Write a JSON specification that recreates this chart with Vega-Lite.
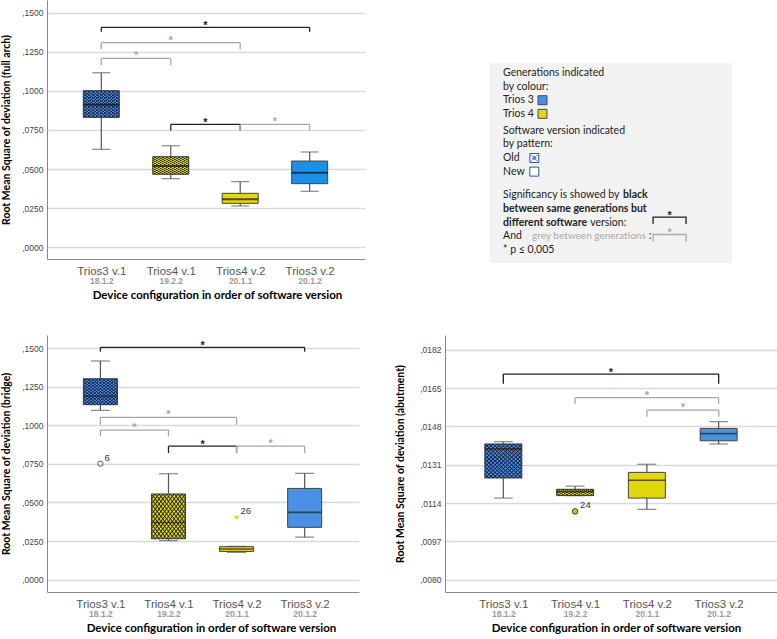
{
 "$schema": "https://vega.github.io/schema/vega-lite/v6.json",
 "background": "white",
 "padding": {"left": 1, "top": 0, "right": 0, "bottom": 0},
 "datasets": {
  "boxes": [
   {"panel": "full arch", "pos": 1, "config": "Trios3 v.1", "version": "18.1.2", "gen": "Trios 3", "sw": "Old", "min": 0.0626, "q1": 0.0831, "median": 0.0912, "q3": 0.1002, "max": 0.1117},
   {"panel": "full arch", "pos": 2, "config": "Trios4 v.1", "version": "19.2.2", "gen": "Trios 4", "sw": "Old", "min": 0.0438, "q1": 0.0466, "median": 0.052, "q3": 0.0579, "max": 0.0649},
   {"panel": "full arch", "pos": 3, "config": "Trios4 v.2", "version": "20.1.1", "gen": "Trios 4", "sw": "New", "min": 0.0263, "q1": 0.028, "median": 0.0306, "q3": 0.0344, "max": 0.0419},
   {"panel": "full arch", "pos": 4, "config": "Trios3 v.2", "version": "20.1.2", "gen": "Trios 3", "sw": "New", "min": 0.0357, "q1": 0.0406, "median": 0.0476, "q3": 0.0551, "max": 0.0609},
   {"panel": "bridge", "pos": 1, "config": "Trios3 v.1", "version": "18.1.2", "gen": "Trios 3", "sw": "Old", "min": 0.1096, "q1": 0.1133, "median": 0.1187, "q3": 0.1301, "max": 0.1416},
   {"panel": "bridge", "pos": 2, "config": "Trios4 v.1", "version": "19.2.2", "gen": "Trios 4", "sw": "Old", "min": 0.0253, "q1": 0.0265, "median": 0.037, "q3": 0.0555, "max": 0.0686},
   {"panel": "bridge", "pos": 3, "config": "Trios4 v.2", "version": "20.1.1", "gen": "Trios 4", "sw": "New", "min": 0.0177, "q1": 0.0183, "median": 0.0199, "q3": 0.0214, "max": 0.0216},
   {"panel": "bridge", "pos": 4, "config": "Trios3 v.2", "version": "20.1.2", "gen": "Trios 3", "sw": "New", "min": 0.0276, "q1": 0.0339, "median": 0.0436, "q3": 0.0591, "max": 0.0689},
   {"panel": "abutment", "pos": 1, "config": "Trios3 v.1", "version": "18.1.2", "gen": "Trios 3", "sw": "Old", "min": 0.01162, "q1": 0.01251, "median": 0.0138, "q3": 0.01402, "max": 0.01412},
   {"panel": "abutment", "pos": 2, "config": "Trios4 v.1", "version": "19.2.2", "gen": "Trios 4", "sw": "Old", "min": 0.01173, "q1": 0.01173, "median": 0.0119, "q3": 0.01201, "max": 0.01215},
   {"panel": "abutment", "pos": 3, "config": "Trios4 v.2", "version": "20.1.1", "gen": "Trios 4", "sw": "New", "min": 0.01112, "q1": 0.01162, "median": 0.01241, "q3": 0.01276, "max": 0.01312},
   {"panel": "abutment", "pos": 4, "config": "Trios3 v.2", "version": "20.1.2", "gen": "Trios 3", "sw": "New", "min": 0.01402, "q1": 0.01416, "median": 0.01448, "q3": 0.01471, "max": 0.01501}
  ],
  "outliers": [
   {"panel": "bridge", "pos": 1, "value": 0.0751, "case": "6", "type": "outlier"},
   {"panel": "bridge", "pos": 3, "value": 0.0404, "case": "26", "type": "extreme"},
   {"panel": "abutment", "pos": 2, "value": 0.01103, "case": "24", "type": "outlier"}
  ],
  "brackets": [
   {"panel": "full arch", "id": "a", "from": 1, "to": 4, "level": 0.1408, "end": 0.138, "kind": "same", "sig": "*"},
   {"panel": "full arch", "id": "b", "from": 1, "to": 3, "level": 0.131, "end": 0.1267, "kind": "between", "sig": "*"},
   {"panel": "full arch", "id": "c", "from": 1, "to": 2, "level": 0.1209, "end": 0.1167, "kind": "between", "sig": "*"},
   {"panel": "full arch", "id": "d", "from": 2, "to": 3, "level": 0.0786, "end": 0.0746, "kind": "same", "sig": "*"},
   {"panel": "full arch", "id": "e", "from": 3, "to": 4, "level": 0.0786, "end": 0.0746, "kind": "between", "sig": "*"},
   {"panel": "bridge", "id": "f", "from": 1, "to": 4, "level": 0.1504, "end": 0.1476, "kind": "same", "sig": "*"},
   {"panel": "bridge", "id": "g", "from": 1, "to": 3, "level": 0.1051, "end": 0.1004, "kind": "between", "sig": "*"},
   {"panel": "bridge", "id": "h", "from": 1, "to": 2, "level": 0.0969, "end": 0.0928, "kind": "between", "sig": "*"},
   {"panel": "bridge", "id": "i", "from": 2, "to": 3, "level": 0.0865, "end": 0.082, "kind": "same", "sig": "*"},
   {"panel": "bridge", "id": "j", "from": 3, "to": 4, "level": 0.0865, "end": 0.082, "kind": "between", "sig": "*"},
   {"panel": "abutment", "id": "k", "from": 1, "to": 4, "level": 0.017121, "end": 0.016692, "kind": "same", "sig": "*"},
   {"panel": "abutment", "id": "l", "from": 2, "to": 4, "level": 0.016071, "end": 0.015805, "kind": "between", "sig": "*"},
   {"panel": "abutment", "id": "m", "from": 3, "to": 4, "level": 0.015524, "end": 0.015229, "kind": "between", "sig": "*"}
  ],
  "legend": [
   {"line": 1, "text": "Generations indicated", "seg": "main"},
   {"line": 2, "text": "by colour:", "seg": "main"},
   {"line": 3, "text": "Trios 3", "seg": "main"},
   {"line": 4, "text": "Trios 4", "seg": "main"},
   {"line": 5.25, "text": "Software version indicated", "seg": "main"},
   {"line": 6.25, "text": "by pattern:", "seg": "main"},
   {"line": 7.25, "text": "Old", "seg": "main"},
   {"line": 8.25, "text": "New", "seg": "main"},
   {"line": 10, "text": "Significancy is showed by", "seg": "main"},
   {"line": 10, "text": "black", "seg": "black"},
   {"line": 11, "text": "between same generations but", "seg": "bold"},
   {"line": 12, "text": "different software", "seg": "bold"},
   {"line": 12, "text": "version:", "seg": "version"},
   {"line": 13, "text": "And", "seg": "main"},
   {"line": 13, "text": "grey between generations", "seg": "grey"},
   {"line": 13, "text": ":", "seg": "colon"},
   {"line": 14, "text": "* p ≤ 0,005", "seg": "main"}
  ]
 },
 "spacing": 34,
 "resolve": {"scale": {"fill": "independent", "stroke": "independent"}},
 "vconcat": [
  {
   "spacing": 125,
   "resolve": {"scale": {"fill": "independent", "stroke": "independent"}},
   "hconcat": [
    {
     "width": 318, "height": 259,
     "resolve": {"axis": {"x": "independent"}},
     "layer": [
      {"data": {"name": "boxes"}, "transform": [{"filter": "datum.panel == 'full arch'"}],
       "mark": {"type": "rule", "color": "#555555", "strokeWidth": 1.2},
       "encoding": {
        "x": {"field": "pos", "type": "quantitative", "scale": {"domain": [0.29, 4.725], "nice": false, "zero": false},
              "axis": {"orient": "bottom", "values": [1, 2, 3, 4], "labelExpr": "['','Trios3 v.1','Trios4 v.1','Trios4 v.2','Trios3 v.2'][datum.value]", "grid": false, "ticks": false, "domain": true, "domainColor": "#888888", "labelFont": "Liberation Sans", "labelFontSize": 11.5, "labelColor": "#555555", "labelPadding": 6, "labelOverlap": false, "labelFlush": false, "title": null}},
        "y": {"field": "min", "type": "quantitative", "scale": {"domain": [-0.00769, 0.15833], "nice": false, "zero": false},
              "axis": {"values": [0, 0.025, 0.05, 0.075, 0.1, 0.125, 0.15], "labelExpr": "replace(format(datum.value, '.4f'), '0.', ',')", "grid": true, "gridColor": "#d9d9d9", "gridWidth": 1.5, "ticks": false, "domain": true, "domainColor": "#888888", "labelFont": "Liberation Sans", "labelFontSize": 8.5, "labelColor": "#444444", "labelPadding": 4, "title": "Root Mean Square of deviation (full arch)", "titleFont": "Lato", "titleFontSize": 10.5, "titleFontWeight": "bold", "titleColor": "#000000", "titlePadding": 10}},
        "y2": {"field": "max"}
       }},
      {"data": {"name": "boxes"}, "transform": [{"filter": "datum.panel == 'full arch'"}, {"fold": ["min", "max"], "as": ["stat", "v"]}],
       "mark": {"type": "tick", "orient": "horizontal", "size": 18, "thickness": 1.2, "color": "#555555"},
       "encoding": {"x": {"field": "pos", "type": "quantitative", "axis": null}, "y": {"field": "v", "type": "quantitative"}}},
      {"data": {"name": "boxes"}, "transform": [{"filter": "datum.panel == 'full arch'"}],
       "mark": {"type": "bar", "width": 36, "stroke": "#444444", "strokeWidth": 1},
       "encoding": {
        "x": {"field": "pos", "type": "quantitative",
              "axis": {"orient": "bottom", "values": [1, 2, 3, 4], "labelExpr": "['','18.1.2','19.2.2','20.1.1','20.1.2'][datum.value]", "grid": false, "ticks": false, "domain": false, "labelFont": "Liberation Sans", "labelFontSize": 8.5, "labelFontWeight": "bold", "labelColor": "#9a9a9a", "labelPadding": 17, "labelOverlap": false, "labelFlush": false, "title": "Device configuration in order of software version", "titleFont": "Lato", "titleFontSize": 11.5, "titleFontWeight": "bold", "titleColor": "#000000", "titlePadding": 5, "titleX": 170}},
        "y": {"field": "q1", "type": "quantitative"},
        "y2": {"field": "q3"},
        "fill": {"field": "config", "type": "nominal", "scale": {"domain": ["Trios3 v.1", "Trios4 v.1", "Trios4 v.2", "Trios3 v.2"], "range": ["#4a8fe3", "#e2d60f", "#e2d60f", "#1c90e8"]}, "legend": null}
       }},
      {"data": {"name": "boxes"}, "transform": [{"filter": "datum.panel == 'full arch' && datum.sw == 'Old'"}],
       "mark": {"type": "bar", "width": 36, "strokeWidth": 0, "fill": {"gradient": "linear", "x1": 0, "y1": 0, "x2": 1, "y2": 1, "stops": [{"offset":0,"color":"rgba(10,15,40,0.85)"},{"offset":0.01667,"color":"rgba(10,15,40,0)"},{"offset":0.03889,"color":"rgba(10,15,40,0)"},{"offset":0.05556,"color":"rgba(10,15,40,0.85)"},{"offset":0.07222,"color":"rgba(10,15,40,0)"},{"offset":0.09444,"color":"rgba(10,15,40,0)"},{"offset":0.11111,"color":"rgba(10,15,40,0.85)"},{"offset":0.12778,"color":"rgba(10,15,40,0)"},{"offset":0.15,"color":"rgba(10,15,40,0)"},{"offset":0.16667,"color":"rgba(10,15,40,0.85)"},{"offset":0.18333,"color":"rgba(10,15,40,0)"},{"offset":0.20556,"color":"rgba(10,15,40,0)"},{"offset":0.22222,"color":"rgba(10,15,40,0.85)"},{"offset":0.23889,"color":"rgba(10,15,40,0)"},{"offset":0.26111,"color":"rgba(10,15,40,0)"},{"offset":0.27778,"color":"rgba(10,15,40,0.85)"},{"offset":0.29444,"color":"rgba(10,15,40,0)"},{"offset":0.31667,"color":"rgba(10,15,40,0)"},{"offset":0.33333,"color":"rgba(10,15,40,0.85)"},{"offset":0.35,"color":"rgba(10,15,40,0)"},{"offset":0.37222,"color":"rgba(10,15,40,0)"},{"offset":0.38889,"color":"rgba(10,15,40,0.85)"},{"offset":0.40556,"color":"rgba(10,15,40,0)"},{"offset":0.42778,"color":"rgba(10,15,40,0)"},{"offset":0.44444,"color":"rgba(10,15,40,0.85)"},{"offset":0.46111,"color":"rgba(10,15,40,0)"},{"offset":0.48333,"color":"rgba(10,15,40,0)"},{"offset":0.5,"color":"rgba(10,15,40,0.85)"},{"offset":0.51667,"color":"rgba(10,15,40,0)"},{"offset":0.53889,"color":"rgba(10,15,40,0)"},{"offset":0.55556,"color":"rgba(10,15,40,0.85)"},{"offset":0.57222,"color":"rgba(10,15,40,0)"},{"offset":0.59444,"color":"rgba(10,15,40,0)"},{"offset":0.61111,"color":"rgba(10,15,40,0.85)"},{"offset":0.62778,"color":"rgba(10,15,40,0)"},{"offset":0.65,"color":"rgba(10,15,40,0)"},{"offset":0.66667,"color":"rgba(10,15,40,0.85)"},{"offset":0.68333,"color":"rgba(10,15,40,0)"},{"offset":0.70556,"color":"rgba(10,15,40,0)"},{"offset":0.72222,"color":"rgba(10,15,40,0.85)"},{"offset":0.73889,"color":"rgba(10,15,40,0)"},{"offset":0.76111,"color":"rgba(10,15,40,0)"},{"offset":0.77778,"color":"rgba(10,15,40,0.85)"},{"offset":0.79444,"color":"rgba(10,15,40,0)"},{"offset":0.81667,"color":"rgba(10,15,40,0)"},{"offset":0.83333,"color":"rgba(10,15,40,0.85)"},{"offset":0.85,"color":"rgba(10,15,40,0)"},{"offset":0.87222,"color":"rgba(10,15,40,0)"},{"offset":0.88889,"color":"rgba(10,15,40,0.85)"},{"offset":0.90556,"color":"rgba(10,15,40,0)"},{"offset":0.92778,"color":"rgba(10,15,40,0)"},{"offset":0.94444,"color":"rgba(10,15,40,0.85)"},{"offset":0.96111,"color":"rgba(10,15,40,0)"},{"offset":0.98333,"color":"rgba(10,15,40,0)"},{"offset":1,"color":"rgba(10,15,40,0.85)"}]}},
       "encoding": {"x": {"field": "pos", "type": "quantitative", "axis": null}, "y": {"field": "q1", "type": "quantitative"}, "y2": {"field": "q3"}}},
      {"data": {"name": "boxes"}, "transform": [{"filter": "datum.panel == 'full arch' && datum.sw == 'Old'"}],
       "mark": {"type": "bar", "width": 36, "strokeWidth": 0, "fill": {"gradient": "linear", "x1": 1, "y1": 0, "x2": 0, "y2": 1, "stops": [{"offset":0,"color":"rgba(10,15,40,0.85)"},{"offset":0.01667,"color":"rgba(10,15,40,0)"},{"offset":0.03889,"color":"rgba(10,15,40,0)"},{"offset":0.05556,"color":"rgba(10,15,40,0.85)"},{"offset":0.07222,"color":"rgba(10,15,40,0)"},{"offset":0.09444,"color":"rgba(10,15,40,0)"},{"offset":0.11111,"color":"rgba(10,15,40,0.85)"},{"offset":0.12778,"color":"rgba(10,15,40,0)"},{"offset":0.15,"color":"rgba(10,15,40,0)"},{"offset":0.16667,"color":"rgba(10,15,40,0.85)"},{"offset":0.18333,"color":"rgba(10,15,40,0)"},{"offset":0.20556,"color":"rgba(10,15,40,0)"},{"offset":0.22222,"color":"rgba(10,15,40,0.85)"},{"offset":0.23889,"color":"rgba(10,15,40,0)"},{"offset":0.26111,"color":"rgba(10,15,40,0)"},{"offset":0.27778,"color":"rgba(10,15,40,0.85)"},{"offset":0.29444,"color":"rgba(10,15,40,0)"},{"offset":0.31667,"color":"rgba(10,15,40,0)"},{"offset":0.33333,"color":"rgba(10,15,40,0.85)"},{"offset":0.35,"color":"rgba(10,15,40,0)"},{"offset":0.37222,"color":"rgba(10,15,40,0)"},{"offset":0.38889,"color":"rgba(10,15,40,0.85)"},{"offset":0.40556,"color":"rgba(10,15,40,0)"},{"offset":0.42778,"color":"rgba(10,15,40,0)"},{"offset":0.44444,"color":"rgba(10,15,40,0.85)"},{"offset":0.46111,"color":"rgba(10,15,40,0)"},{"offset":0.48333,"color":"rgba(10,15,40,0)"},{"offset":0.5,"color":"rgba(10,15,40,0.85)"},{"offset":0.51667,"color":"rgba(10,15,40,0)"},{"offset":0.53889,"color":"rgba(10,15,40,0)"},{"offset":0.55556,"color":"rgba(10,15,40,0.85)"},{"offset":0.57222,"color":"rgba(10,15,40,0)"},{"offset":0.59444,"color":"rgba(10,15,40,0)"},{"offset":0.61111,"color":"rgba(10,15,40,0.85)"},{"offset":0.62778,"color":"rgba(10,15,40,0)"},{"offset":0.65,"color":"rgba(10,15,40,0)"},{"offset":0.66667,"color":"rgba(10,15,40,0.85)"},{"offset":0.68333,"color":"rgba(10,15,40,0)"},{"offset":0.70556,"color":"rgba(10,15,40,0)"},{"offset":0.72222,"color":"rgba(10,15,40,0.85)"},{"offset":0.73889,"color":"rgba(10,15,40,0)"},{"offset":0.76111,"color":"rgba(10,15,40,0)"},{"offset":0.77778,"color":"rgba(10,15,40,0.85)"},{"offset":0.79444,"color":"rgba(10,15,40,0)"},{"offset":0.81667,"color":"rgba(10,15,40,0)"},{"offset":0.83333,"color":"rgba(10,15,40,0.85)"},{"offset":0.85,"color":"rgba(10,15,40,0)"},{"offset":0.87222,"color":"rgba(10,15,40,0)"},{"offset":0.88889,"color":"rgba(10,15,40,0.85)"},{"offset":0.90556,"color":"rgba(10,15,40,0)"},{"offset":0.92778,"color":"rgba(10,15,40,0)"},{"offset":0.94444,"color":"rgba(10,15,40,0.85)"},{"offset":0.96111,"color":"rgba(10,15,40,0)"},{"offset":0.98333,"color":"rgba(10,15,40,0)"},{"offset":1,"color":"rgba(10,15,40,0.85)"}]}},
       "encoding": {"x": {"field": "pos", "type": "quantitative", "axis": null}, "y": {"field": "q1", "type": "quantitative"}, "y2": {"field": "q3"}}},
      {"data": {"name": "boxes"}, "transform": [{"filter": "datum.panel == 'full arch'"}],
       "mark": {"type": "tick", "orient": "horizontal", "size": 36, "thickness": 2, "color": "#111111"},
       "encoding": {"x": {"field": "pos", "type": "quantitative", "axis": null}, "y": {"field": "median", "type": "quantitative"}}},
      {"data": {"name": "brackets"}, "transform": [{"filter": "datum.panel == 'full arch'"}],
       "mark": {"type": "rule", "strokeWidth": 1.3},
       "encoding": {"x": {"field": "from", "type": "quantitative", "axis": null}, "x2": {"field": "to"}, "y": {"field": "level", "type": "quantitative"},
        "stroke": {"field": "kind", "type": "nominal", "scale": {"domain": ["same", "between"], "range": ["#222222", "#a6a6a6"]}, "legend": null}}},
      {"data": {"name": "brackets"}, "transform": [{"filter": "datum.panel == 'full arch'"}, {"fold": ["from", "to"], "as": ["side", "xv"]}],
       "mark": {"type": "rule", "strokeWidth": 1.3},
       "encoding": {"x": {"field": "xv", "type": "quantitative", "axis": null}, "y": {"field": "level", "type": "quantitative"}, "y2": {"field": "end"},
        "stroke": {"field": "kind", "type": "nominal", "scale": {"domain": ["same", "between"], "range": ["#222222", "#a6a6a6"]}, "legend": null}}},
      {"data": {"name": "brackets"}, "transform": [{"filter": "datum.panel == 'full arch' && datum.kind == 'same'"}, {"fold": ["from", "to"], "as": ["side", "xv"]}, {"aggregate": [{"op": "mean", "field": "xv", "as": "mid"}], "groupby": ["id", "level", "sig"]}],
       "mark": {"type": "text", "font": "Liberation Sans", "fontSize": 11, "fontWeight": "bold", "color": "#222222", "baseline": "alphabetic", "dy": 2},
       "encoding": {"x": {"field": "mid", "type": "quantitative", "axis": null}, "y": {"field": "level", "type": "quantitative"}, "text": {"field": "sig"}}},
      {"data": {"name": "brackets"}, "transform": [{"filter": "datum.panel == 'full arch' && datum.kind == 'between'"}, {"fold": ["from", "to"], "as": ["side", "xv"]}, {"aggregate": [{"op": "mean", "field": "xv", "as": "mid"}], "groupby": ["id", "level", "sig"]}],
       "mark": {"type": "text", "font": "Liberation Sans", "fontSize": 11, "fontWeight": "bold", "color": "#a6a6a6", "baseline": "alphabetic", "dy": 1},
       "encoding": {"x": {"field": "mid", "type": "quantitative", "axis": null}, "y": {"field": "level", "type": "quantitative"}, "text": {"field": "sig"}}}
     ]
    },
    {
     "width": 242, "height": 263,
     "layer": [
      {"data": {"values": [{}]}, "mark": {"type": "rect", "fill": "#f2f2f2"},
       "encoding": {"x": {"datum": 0, "type": "quantitative", "scale": {"domain": [0, 100], "nice": false, "zero": false}, "axis": null}, "x2": {"datum": 100},
        "y": {"datum": 0.26, "type": "quantitative", "scale": {"domain": [-4.37, 14.97], "reverse": true, "nice": false, "zero": false}, "axis": null}, "y2": {"datum": 14.97}}},
      {"data": {"name": "legend"}, "transform": [{"filter": "datum.seg == 'main'"}],
       "mark": {"type": "text", "align": "left", "baseline": "middle", "font": "Lato", "fontSize": 10.5, "color": "#222222"},
       "encoding": {"x": {"datum": 5.4, "type": "quantitative", "axis": null}, "y": {"field": "line", "type": "quantitative", "axis": null}, "text": {"field": "text"}}},
      {"data": {"name": "legend"}, "transform": [{"filter": "datum.seg == 'bold'"}],
       "mark": {"type": "text", "align": "left", "baseline": "middle", "font": "Lato", "fontSize": 10.5, "fontWeight": "bold", "color": "#222222"},
       "encoding": {"x": {"datum": 5.4, "type": "quantitative", "axis": null}, "y": {"field": "line", "type": "quantitative", "axis": null}, "text": {"field": "text"}}},
      {"data": {"name": "legend"}, "transform": [{"filter": "datum.seg == 'black'"}],
       "mark": {"type": "text", "align": "left", "baseline": "middle", "font": "Lato", "fontSize": 10.5, "fontWeight": "bold", "color": "#222222"},
       "encoding": {"x": {"datum": 55, "type": "quantitative", "axis": null}, "y": {"field": "line", "type": "quantitative", "axis": null}, "text": {"field": "text"}}},
      {"data": {"name": "legend"}, "transform": [{"filter": "datum.seg == 'version'"}],
       "mark": {"type": "text", "align": "left", "baseline": "middle", "font": "Lato", "fontSize": 10.5, "color": "#222222"},
       "encoding": {"x": {"datum": 41.4, "type": "quantitative", "axis": null}, "y": {"field": "line", "type": "quantitative", "axis": null}, "text": {"field": "text"}}},
      {"data": {"name": "legend"}, "transform": [{"filter": "datum.seg == 'grey'"}],
       "mark": {"type": "text", "align": "left", "baseline": "middle", "font": "Lato", "fontSize": 10, "color": "#aaaaaa"},
       "encoding": {"x": {"datum": 17.4, "type": "quantitative", "axis": null}, "y": {"field": "line", "type": "quantitative", "axis": null}, "text": {"field": "text"}}},
      {"data": {"name": "legend"}, "transform": [{"filter": "datum.seg == 'colon'"}],
       "mark": {"type": "text", "align": "left", "baseline": "middle", "font": "Lato", "fontSize": 10.5, "color": "#222222"},
       "encoding": {"x": {"datum": 65.6, "type": "quantitative", "axis": null}, "y": {"field": "line", "type": "quantitative", "axis": null}, "text": {"field": "text"}}},
      {"data": {"name": "legend"}, "transform": [{"filter": "datum.text == 'Trios 3' || datum.text == 'Trios 4'"}],
       "mark": {"type": "point", "shape": "square", "size": 81, "filled": true, "opacity": 1, "stroke": "#3c4a66", "strokeWidth": 1},
       "encoding": {"x": {"datum": 21.7, "type": "quantitative", "axis": null}, "y": {"field": "line", "type": "quantitative", "axis": null},
        "fill": {"field": "text", "type": "nominal", "scale": {"domain": ["Trios 3", "Trios 4"], "range": ["#4a8fe3", "#e2d60f"]}, "legend": null}}},
      {"data": {"name": "legend"}, "transform": [{"filter": "datum.text == 'Old' || datum.text == 'New'"}],
       "mark": {"type": "point", "shape": "square", "size": 81, "filled": true, "fill": "#ffffff", "opacity": 1, "stroke": "#2f5597", "strokeWidth": 1},
       "encoding": {"x": {"datum": 18.3, "type": "quantitative", "axis": null}, "y": {"field": "line", "type": "quantitative", "axis": null}}},
      {"data": {"name": "legend"}, "transform": [{"filter": "datum.text == 'Old'"}],
       "mark": {"type": "point", "shape": "M-0.75,-0.75L0.75,0.75M0.75,-0.75L-0.75,0.75M-0.4,0L0,-0.4L0.4,0L0,0.4Z", "size": 81, "filled": false, "opacity": 1, "stroke": "#2f5597", "strokeWidth": 0.8},
       "encoding": {"x": {"datum": 18.3, "type": "quantitative", "axis": null}, "y": {"field": "line", "type": "quantitative", "axis": null}}},
      {"data": {"values": [{}]},
       "mark": {"type": "point", "shape": "M-1,0.21L-1,-0.21L1,-0.21L1,0.21", "size": 1089, "filled": false, "opacity": 1, "stroke": "#222222", "strokeWidth": 1.3},
       "encoding": {"x": {"datum": 74.2, "type": "quantitative", "axis": null}, "y": {"datum": 11.85, "type": "quantitative", "axis": null}}},
      {"data": {"values": [{}]},
       "mark": {"type": "point", "shape": "M-1,0.21L-1,-0.21L1,-0.21L1,0.21", "size": 1089, "filled": false, "opacity": 1, "stroke": "#aaaaaa", "strokeWidth": 1.3},
       "encoding": {"x": {"datum": 74.2, "type": "quantitative", "axis": null}, "y": {"datum": 13.13, "type": "quantitative", "axis": null}}},
      {"data": {"values": [{"sig": "*"}]},
       "mark": {"type": "text", "font": "Liberation Sans", "fontSize": 11, "fontWeight": "bold", "color": "#222222", "baseline": "alphabetic", "dy": 2},
       "encoding": {"x": {"datum": 74.2, "type": "quantitative", "axis": null}, "y": {"datum": 11.59, "type": "quantitative", "axis": null}, "text": {"field": "sig"}}},
      {"data": {"values": [{"sig": "*"}]},
       "mark": {"type": "text", "font": "Liberation Sans", "fontSize": 11, "fontWeight": "bold", "color": "#aaaaaa", "baseline": "alphabetic", "dy": 1},
       "encoding": {"x": {"datum": 74.2, "type": "quantitative", "axis": null}, "y": {"datum": 12.91, "type": "quantitative", "axis": null}, "text": {"field": "sig"}}}
     ]
    }
   ]
  },
  {
   "spacing": 36,
   "resolve": {"scale": {"fill": "independent", "stroke": "independent"}},
   "hconcat": [
    {
     "width": 312, "height": 257,
     "resolve": {"axis": {"x": "independent"}},
     "layer": [
      {"data": {"name": "boxes"}, "transform": [{"filter": "datum.panel == 'bridge'"}],
       "mark": {"type": "rule", "color": "#555555", "strokeWidth": 1.2},
       "encoding": {
        "x": {"field": "pos", "type": "quantitative", "scale": {"domain": [0.289, 4.725], "nice": false, "zero": false},
              "axis": {"orient": "bottom", "values": [1, 2, 3, 4], "labelExpr": "['','Trios3 v.1','Trios4 v.1','Trios4 v.2','Trios3 v.2'][datum.value]", "grid": false, "ticks": false, "domain": true, "domainColor": "#888888", "labelFont": "Liberation Sans", "labelFontSize": 11.5, "labelColor": "#555555", "labelPadding": 6, "labelOverlap": false, "labelFlush": false, "title": null}},
        "y": {"field": "min", "type": "quantitative", "scale": {"domain": [-0.00796, 0.15842], "nice": false, "zero": false},
              "axis": {"values": [0, 0.025, 0.05, 0.075, 0.1, 0.125, 0.15], "labelExpr": "replace(format(datum.value, '.4f'), '0.', ',')", "grid": true, "gridColor": "#d9d9d9", "gridWidth": 1.5, "ticks": false, "domain": true, "domainColor": "#888888", "labelFont": "Liberation Sans", "labelFontSize": 8.5, "labelColor": "#444444", "labelPadding": 4, "title": "Root Mean Square of deviation (bridge)", "titleFont": "Lato", "titleFontSize": 10.5, "titleFontWeight": "bold", "titleColor": "#000000", "titlePadding": 10}},
        "y2": {"field": "max"}
       }},
      {"data": {"name": "boxes"}, "transform": [{"filter": "datum.panel == 'bridge'"}, {"fold": ["min", "max"], "as": ["stat", "v"]}],
       "mark": {"type": "tick", "orient": "horizontal", "size": 19, "thickness": 1.2, "color": "#555555"},
       "encoding": {"x": {"field": "pos", "type": "quantitative", "axis": null}, "y": {"field": "v", "type": "quantitative"}}},
      {"data": {"name": "boxes"}, "transform": [{"filter": "datum.panel == 'bridge'"}],
       "mark": {"type": "bar", "width": 34, "stroke": "#444444", "strokeWidth": 1},
       "encoding": {
        "x": {"field": "pos", "type": "quantitative",
              "axis": {"orient": "bottom", "values": [1, 2, 3, 4], "labelExpr": "['','18.1.2','19.2.2','20.1.1','20.1.2'][datum.value]", "grid": false, "ticks": false, "domain": false, "labelFont": "Liberation Sans", "labelFontSize": 8.5, "labelFontWeight": "bold", "labelColor": "#9a9a9a", "labelPadding": 17, "labelOverlap": false, "labelFlush": false, "title": "Device configuration in order of software version", "titleFont": "Lato", "titleFontSize": 11.5, "titleFontWeight": "bold", "titleColor": "#000000", "titlePadding": 5, "titleX": 164}},
        "y": {"field": "q1", "type": "quantitative"},
        "y2": {"field": "q3"},
        "fill": {"field": "config", "type": "nominal", "scale": {"domain": ["Trios3 v.1", "Trios4 v.1", "Trios4 v.2", "Trios3 v.2"], "range": ["#4a8fe3", "#e2d60f", "#e2d60f", "#4b91e3"]}, "legend": null}
       }},
      {"data": {"name": "boxes"}, "transform": [{"filter": "datum.panel == 'bridge' && datum.sw == 'Old'"}],
       "mark": {"type": "bar", "width": 34, "strokeWidth": 0, "fill": {"gradient": "linear", "x1": 0, "y1": 0, "x2": 1, "y2": 1, "stops": [{"offset":0,"color":"rgba(10,15,40,0.85)"},{"offset":0.01667,"color":"rgba(10,15,40,0)"},{"offset":0.03889,"color":"rgba(10,15,40,0)"},{"offset":0.05556,"color":"rgba(10,15,40,0.85)"},{"offset":0.07222,"color":"rgba(10,15,40,0)"},{"offset":0.09444,"color":"rgba(10,15,40,0)"},{"offset":0.11111,"color":"rgba(10,15,40,0.85)"},{"offset":0.12778,"color":"rgba(10,15,40,0)"},{"offset":0.15,"color":"rgba(10,15,40,0)"},{"offset":0.16667,"color":"rgba(10,15,40,0.85)"},{"offset":0.18333,"color":"rgba(10,15,40,0)"},{"offset":0.20556,"color":"rgba(10,15,40,0)"},{"offset":0.22222,"color":"rgba(10,15,40,0.85)"},{"offset":0.23889,"color":"rgba(10,15,40,0)"},{"offset":0.26111,"color":"rgba(10,15,40,0)"},{"offset":0.27778,"color":"rgba(10,15,40,0.85)"},{"offset":0.29444,"color":"rgba(10,15,40,0)"},{"offset":0.31667,"color":"rgba(10,15,40,0)"},{"offset":0.33333,"color":"rgba(10,15,40,0.85)"},{"offset":0.35,"color":"rgba(10,15,40,0)"},{"offset":0.37222,"color":"rgba(10,15,40,0)"},{"offset":0.38889,"color":"rgba(10,15,40,0.85)"},{"offset":0.40556,"color":"rgba(10,15,40,0)"},{"offset":0.42778,"color":"rgba(10,15,40,0)"},{"offset":0.44444,"color":"rgba(10,15,40,0.85)"},{"offset":0.46111,"color":"rgba(10,15,40,0)"},{"offset":0.48333,"color":"rgba(10,15,40,0)"},{"offset":0.5,"color":"rgba(10,15,40,0.85)"},{"offset":0.51667,"color":"rgba(10,15,40,0)"},{"offset":0.53889,"color":"rgba(10,15,40,0)"},{"offset":0.55556,"color":"rgba(10,15,40,0.85)"},{"offset":0.57222,"color":"rgba(10,15,40,0)"},{"offset":0.59444,"color":"rgba(10,15,40,0)"},{"offset":0.61111,"color":"rgba(10,15,40,0.85)"},{"offset":0.62778,"color":"rgba(10,15,40,0)"},{"offset":0.65,"color":"rgba(10,15,40,0)"},{"offset":0.66667,"color":"rgba(10,15,40,0.85)"},{"offset":0.68333,"color":"rgba(10,15,40,0)"},{"offset":0.70556,"color":"rgba(10,15,40,0)"},{"offset":0.72222,"color":"rgba(10,15,40,0.85)"},{"offset":0.73889,"color":"rgba(10,15,40,0)"},{"offset":0.76111,"color":"rgba(10,15,40,0)"},{"offset":0.77778,"color":"rgba(10,15,40,0.85)"},{"offset":0.79444,"color":"rgba(10,15,40,0)"},{"offset":0.81667,"color":"rgba(10,15,40,0)"},{"offset":0.83333,"color":"rgba(10,15,40,0.85)"},{"offset":0.85,"color":"rgba(10,15,40,0)"},{"offset":0.87222,"color":"rgba(10,15,40,0)"},{"offset":0.88889,"color":"rgba(10,15,40,0.85)"},{"offset":0.90556,"color":"rgba(10,15,40,0)"},{"offset":0.92778,"color":"rgba(10,15,40,0)"},{"offset":0.94444,"color":"rgba(10,15,40,0.85)"},{"offset":0.96111,"color":"rgba(10,15,40,0)"},{"offset":0.98333,"color":"rgba(10,15,40,0)"},{"offset":1,"color":"rgba(10,15,40,0.85)"}]}},
       "encoding": {"x": {"field": "pos", "type": "quantitative", "axis": null}, "y": {"field": "q1", "type": "quantitative"}, "y2": {"field": "q3"}}},
      {"data": {"name": "boxes"}, "transform": [{"filter": "datum.panel == 'bridge' && datum.sw == 'Old'"}],
       "mark": {"type": "bar", "width": 34, "strokeWidth": 0, "fill": {"gradient": "linear", "x1": 1, "y1": 0, "x2": 0, "y2": 1, "stops": [{"offset":0,"color":"rgba(10,15,40,0.85)"},{"offset":0.01667,"color":"rgba(10,15,40,0)"},{"offset":0.03889,"color":"rgba(10,15,40,0)"},{"offset":0.05556,"color":"rgba(10,15,40,0.85)"},{"offset":0.07222,"color":"rgba(10,15,40,0)"},{"offset":0.09444,"color":"rgba(10,15,40,0)"},{"offset":0.11111,"color":"rgba(10,15,40,0.85)"},{"offset":0.12778,"color":"rgba(10,15,40,0)"},{"offset":0.15,"color":"rgba(10,15,40,0)"},{"offset":0.16667,"color":"rgba(10,15,40,0.85)"},{"offset":0.18333,"color":"rgba(10,15,40,0)"},{"offset":0.20556,"color":"rgba(10,15,40,0)"},{"offset":0.22222,"color":"rgba(10,15,40,0.85)"},{"offset":0.23889,"color":"rgba(10,15,40,0)"},{"offset":0.26111,"color":"rgba(10,15,40,0)"},{"offset":0.27778,"color":"rgba(10,15,40,0.85)"},{"offset":0.29444,"color":"rgba(10,15,40,0)"},{"offset":0.31667,"color":"rgba(10,15,40,0)"},{"offset":0.33333,"color":"rgba(10,15,40,0.85)"},{"offset":0.35,"color":"rgba(10,15,40,0)"},{"offset":0.37222,"color":"rgba(10,15,40,0)"},{"offset":0.38889,"color":"rgba(10,15,40,0.85)"},{"offset":0.40556,"color":"rgba(10,15,40,0)"},{"offset":0.42778,"color":"rgba(10,15,40,0)"},{"offset":0.44444,"color":"rgba(10,15,40,0.85)"},{"offset":0.46111,"color":"rgba(10,15,40,0)"},{"offset":0.48333,"color":"rgba(10,15,40,0)"},{"offset":0.5,"color":"rgba(10,15,40,0.85)"},{"offset":0.51667,"color":"rgba(10,15,40,0)"},{"offset":0.53889,"color":"rgba(10,15,40,0)"},{"offset":0.55556,"color":"rgba(10,15,40,0.85)"},{"offset":0.57222,"color":"rgba(10,15,40,0)"},{"offset":0.59444,"color":"rgba(10,15,40,0)"},{"offset":0.61111,"color":"rgba(10,15,40,0.85)"},{"offset":0.62778,"color":"rgba(10,15,40,0)"},{"offset":0.65,"color":"rgba(10,15,40,0)"},{"offset":0.66667,"color":"rgba(10,15,40,0.85)"},{"offset":0.68333,"color":"rgba(10,15,40,0)"},{"offset":0.70556,"color":"rgba(10,15,40,0)"},{"offset":0.72222,"color":"rgba(10,15,40,0.85)"},{"offset":0.73889,"color":"rgba(10,15,40,0)"},{"offset":0.76111,"color":"rgba(10,15,40,0)"},{"offset":0.77778,"color":"rgba(10,15,40,0.85)"},{"offset":0.79444,"color":"rgba(10,15,40,0)"},{"offset":0.81667,"color":"rgba(10,15,40,0)"},{"offset":0.83333,"color":"rgba(10,15,40,0.85)"},{"offset":0.85,"color":"rgba(10,15,40,0)"},{"offset":0.87222,"color":"rgba(10,15,40,0)"},{"offset":0.88889,"color":"rgba(10,15,40,0.85)"},{"offset":0.90556,"color":"rgba(10,15,40,0)"},{"offset":0.92778,"color":"rgba(10,15,40,0)"},{"offset":0.94444,"color":"rgba(10,15,40,0.85)"},{"offset":0.96111,"color":"rgba(10,15,40,0)"},{"offset":0.98333,"color":"rgba(10,15,40,0)"},{"offset":1,"color":"rgba(10,15,40,0.85)"}]}},
       "encoding": {"x": {"field": "pos", "type": "quantitative", "axis": null}, "y": {"field": "q1", "type": "quantitative"}, "y2": {"field": "q3"}}},
      {"data": {"name": "boxes"}, "transform": [{"filter": "datum.panel == 'bridge'"}],
       "mark": {"type": "tick", "orient": "horizontal", "size": 34, "thickness": 1.6, "color": "#222222"},
       "encoding": {"x": {"field": "pos", "type": "quantitative", "axis": null}, "y": {"field": "median", "type": "quantitative"}}},
      {"data": {"name": "outliers"}, "transform": [{"filter": "datum.panel == 'bridge' && datum.type == 'outlier'"}],
       "mark": {"type": "point", "shape": "circle", "filled": false, "opacity": 1, "stroke": "#555555", "strokeWidth": 1, "size": 28},
       "encoding": {"x": {"field": "pos", "type": "quantitative", "axis": null}, "y": {"field": "value", "type": "quantitative"}}},
      {"data": {"name": "outliers"}, "transform": [{"filter": "datum.panel == 'bridge' && datum.type == 'extreme'"}],
       "mark": {"type": "point", "shape": "M0,-1L0.236,-0.325L0.951,-0.309L0.382,0.124L0.588,0.809L0,0.4L-0.588,0.809L-0.382,0.124L-0.951,-0.309L-0.236,-0.325Z", "filled": true, "opacity": 1, "fill": "#e6d60f", "size": 40},
       "encoding": {"x": {"field": "pos", "type": "quantitative", "axis": null}, "y": {"field": "value", "type": "quantitative"}}},
      {"data": {"name": "outliers"}, "transform": [{"filter": "datum.panel == 'bridge'"}],
       "mark": {"type": "text", "align": "left", "baseline": "middle", "dx": 4, "dy": -6, "font": "Liberation Sans", "fontSize": 9.5, "color": "#333333"},
       "encoding": {"x": {"field": "pos", "type": "quantitative", "axis": null}, "y": {"field": "value", "type": "quantitative"}, "text": {"field": "case"}}},
      {"data": {"name": "brackets"}, "transform": [{"filter": "datum.panel == 'bridge'"}],
       "mark": {"type": "rule", "strokeWidth": 1.3},
       "encoding": {"x": {"field": "from", "type": "quantitative", "axis": null}, "x2": {"field": "to"}, "y": {"field": "level", "type": "quantitative"},
        "stroke": {"field": "kind", "type": "nominal", "scale": {"domain": ["same", "between"], "range": ["#222222", "#a6a6a6"]}, "legend": null}}},
      {"data": {"name": "brackets"}, "transform": [{"filter": "datum.panel == 'bridge'"}, {"fold": ["from", "to"], "as": ["side", "xv"]}],
       "mark": {"type": "rule", "strokeWidth": 1.3},
       "encoding": {"x": {"field": "xv", "type": "quantitative", "axis": null}, "y": {"field": "level", "type": "quantitative"}, "y2": {"field": "end"},
        "stroke": {"field": "kind", "type": "nominal", "scale": {"domain": ["same", "between"], "range": ["#222222", "#a6a6a6"]}, "legend": null}}},
      {"data": {"name": "brackets"}, "transform": [{"filter": "datum.panel == 'bridge' && datum.kind == 'same'"}, {"fold": ["from", "to"], "as": ["side", "xv"]}, {"aggregate": [{"op": "mean", "field": "xv", "as": "mid"}], "groupby": ["id", "level", "sig"]}],
       "mark": {"type": "text", "font": "Liberation Sans", "fontSize": 11, "fontWeight": "bold", "color": "#222222", "baseline": "alphabetic", "dy": 2},
       "encoding": {"x": {"field": "mid", "type": "quantitative", "axis": null}, "y": {"field": "level", "type": "quantitative"}, "text": {"field": "sig"}}},
      {"data": {"name": "brackets"}, "transform": [{"filter": "datum.panel == 'bridge' && datum.kind == 'between'"}, {"fold": ["from", "to"], "as": ["side", "xv"]}, {"aggregate": [{"op": "mean", "field": "xv", "as": "mid"}], "groupby": ["id", "level", "sig"]}],
       "mark": {"type": "text", "font": "Liberation Sans", "fontSize": 11, "fontWeight": "bold", "color": "#a6a6a6", "baseline": "alphabetic", "dy": 1},
       "encoding": {"x": {"field": "mid", "type": "quantitative", "axis": null}, "y": {"field": "level", "type": "quantitative"}, "text": {"field": "sig"}}}
     ]
    },
    {
     "width": 332, "height": 257,
     "resolve": {"axis": {"x": "independent"}},
     "layer": [
      {"data": {"name": "boxes"}, "transform": [{"filter": "datum.panel == 'abutment'"}],
       "mark": {"type": "rule", "color": "#555555", "strokeWidth": 1.2},
       "encoding": {
        "x": {"field": "pos", "type": "quantitative", "scale": {"domain": [0.257, 4.743], "nice": false, "zero": false},
              "axis": {"orient": "bottom", "values": [1, 2, 3, 4], "labelExpr": "['','Trios3 v.1','Trios4 v.1','Trios4 v.2','Trios3 v.2'][datum.value]", "grid": false, "ticks": false, "domain": true, "domainColor": "#888888", "labelFont": "Liberation Sans", "labelFontSize": 11.5, "labelColor": "#555555", "labelPadding": 6, "labelOverlap": false, "labelFlush": false, "title": null}},
        "y": {"field": "min", "type": "quantitative", "scale": {"domain": [0.007455, 0.018852], "nice": false, "zero": false},
              "axis": {"values": [0.008, 0.0097, 0.0114, 0.0131, 0.0148, 0.0165, 0.0182], "labelExpr": "replace(format(datum.value, '.4f'), '0.', ',')", "grid": true, "gridColor": "#d9d9d9", "gridWidth": 1.5, "ticks": false, "domain": true, "domainColor": "#888888", "labelFont": "Liberation Sans", "labelFontSize": 8.5, "labelColor": "#444444", "labelPadding": 4, "title": "Root Mean Square of deviation (abutment)", "titleFont": "Lato", "titleFontSize": 10.5, "titleFontWeight": "bold", "titleColor": "#000000", "titlePadding": 14}},
        "y2": {"field": "max"}
       }},
      {"data": {"name": "boxes"}, "transform": [{"filter": "datum.panel == 'abutment'"}, {"fold": ["min", "max"], "as": ["stat", "v"]}],
       "mark": {"type": "tick", "orient": "horizontal", "size": 19, "thickness": 1.2, "color": "#555555"},
       "encoding": {"x": {"field": "pos", "type": "quantitative", "axis": null}, "y": {"field": "v", "type": "quantitative"}}},
      {"data": {"name": "boxes"}, "transform": [{"filter": "datum.panel == 'abutment'"}],
       "mark": {"type": "bar", "width": 37, "stroke": "#444444", "strokeWidth": 1},
       "encoding": {
        "x": {"field": "pos", "type": "quantitative",
              "axis": {"orient": "bottom", "values": [1, 2, 3, 4], "labelExpr": "['','18.1.2','19.2.2','20.1.1','20.1.2'][datum.value]", "grid": false, "ticks": false, "domain": false, "labelFont": "Liberation Sans", "labelFontSize": 8.5, "labelFontWeight": "bold", "labelColor": "#9a9a9a", "labelPadding": 17, "labelOverlap": false, "labelFlush": false, "title": "Device configuration in order of software version", "titleFont": "Lato", "titleFontSize": 11.5, "titleFontWeight": "bold", "titleColor": "#000000", "titlePadding": 5, "titleX": 171}},
        "y": {"field": "q1", "type": "quantitative"},
        "y2": {"field": "q3"},
        "fill": {"field": "config", "type": "nominal", "scale": {"domain": ["Trios3 v.1", "Trios4 v.1", "Trios4 v.2", "Trios3 v.2"], "range": ["#4a8fe3", "#e2d60f", "#e2d60f", "#4b91e3"]}, "legend": null}
       }},
      {"data": {"name": "boxes"}, "transform": [{"filter": "datum.panel == 'abutment' && datum.sw == 'Old'"}],
       "mark": {"type": "bar", "width": 37, "strokeWidth": 0, "fill": {"gradient": "linear", "x1": 0, "y1": 0, "x2": 1, "y2": 1, "stops": [{"offset":0,"color":"rgba(10,15,40,0.85)"},{"offset":0.01667,"color":"rgba(10,15,40,0)"},{"offset":0.03889,"color":"rgba(10,15,40,0)"},{"offset":0.05556,"color":"rgba(10,15,40,0.85)"},{"offset":0.07222,"color":"rgba(10,15,40,0)"},{"offset":0.09444,"color":"rgba(10,15,40,0)"},{"offset":0.11111,"color":"rgba(10,15,40,0.85)"},{"offset":0.12778,"color":"rgba(10,15,40,0)"},{"offset":0.15,"color":"rgba(10,15,40,0)"},{"offset":0.16667,"color":"rgba(10,15,40,0.85)"},{"offset":0.18333,"color":"rgba(10,15,40,0)"},{"offset":0.20556,"color":"rgba(10,15,40,0)"},{"offset":0.22222,"color":"rgba(10,15,40,0.85)"},{"offset":0.23889,"color":"rgba(10,15,40,0)"},{"offset":0.26111,"color":"rgba(10,15,40,0)"},{"offset":0.27778,"color":"rgba(10,15,40,0.85)"},{"offset":0.29444,"color":"rgba(10,15,40,0)"},{"offset":0.31667,"color":"rgba(10,15,40,0)"},{"offset":0.33333,"color":"rgba(10,15,40,0.85)"},{"offset":0.35,"color":"rgba(10,15,40,0)"},{"offset":0.37222,"color":"rgba(10,15,40,0)"},{"offset":0.38889,"color":"rgba(10,15,40,0.85)"},{"offset":0.40556,"color":"rgba(10,15,40,0)"},{"offset":0.42778,"color":"rgba(10,15,40,0)"},{"offset":0.44444,"color":"rgba(10,15,40,0.85)"},{"offset":0.46111,"color":"rgba(10,15,40,0)"},{"offset":0.48333,"color":"rgba(10,15,40,0)"},{"offset":0.5,"color":"rgba(10,15,40,0.85)"},{"offset":0.51667,"color":"rgba(10,15,40,0)"},{"offset":0.53889,"color":"rgba(10,15,40,0)"},{"offset":0.55556,"color":"rgba(10,15,40,0.85)"},{"offset":0.57222,"color":"rgba(10,15,40,0)"},{"offset":0.59444,"color":"rgba(10,15,40,0)"},{"offset":0.61111,"color":"rgba(10,15,40,0.85)"},{"offset":0.62778,"color":"rgba(10,15,40,0)"},{"offset":0.65,"color":"rgba(10,15,40,0)"},{"offset":0.66667,"color":"rgba(10,15,40,0.85)"},{"offset":0.68333,"color":"rgba(10,15,40,0)"},{"offset":0.70556,"color":"rgba(10,15,40,0)"},{"offset":0.72222,"color":"rgba(10,15,40,0.85)"},{"offset":0.73889,"color":"rgba(10,15,40,0)"},{"offset":0.76111,"color":"rgba(10,15,40,0)"},{"offset":0.77778,"color":"rgba(10,15,40,0.85)"},{"offset":0.79444,"color":"rgba(10,15,40,0)"},{"offset":0.81667,"color":"rgba(10,15,40,0)"},{"offset":0.83333,"color":"rgba(10,15,40,0.85)"},{"offset":0.85,"color":"rgba(10,15,40,0)"},{"offset":0.87222,"color":"rgba(10,15,40,0)"},{"offset":0.88889,"color":"rgba(10,15,40,0.85)"},{"offset":0.90556,"color":"rgba(10,15,40,0)"},{"offset":0.92778,"color":"rgba(10,15,40,0)"},{"offset":0.94444,"color":"rgba(10,15,40,0.85)"},{"offset":0.96111,"color":"rgba(10,15,40,0)"},{"offset":0.98333,"color":"rgba(10,15,40,0)"},{"offset":1,"color":"rgba(10,15,40,0.85)"}]}},
       "encoding": {"x": {"field": "pos", "type": "quantitative", "axis": null}, "y": {"field": "q1", "type": "quantitative"}, "y2": {"field": "q3"}}},
      {"data": {"name": "boxes"}, "transform": [{"filter": "datum.panel == 'abutment' && datum.sw == 'Old'"}],
       "mark": {"type": "bar", "width": 37, "strokeWidth": 0, "fill": {"gradient": "linear", "x1": 1, "y1": 0, "x2": 0, "y2": 1, "stops": [{"offset":0,"color":"rgba(10,15,40,0.85)"},{"offset":0.01667,"color":"rgba(10,15,40,0)"},{"offset":0.03889,"color":"rgba(10,15,40,0)"},{"offset":0.05556,"color":"rgba(10,15,40,0.85)"},{"offset":0.07222,"color":"rgba(10,15,40,0)"},{"offset":0.09444,"color":"rgba(10,15,40,0)"},{"offset":0.11111,"color":"rgba(10,15,40,0.85)"},{"offset":0.12778,"color":"rgba(10,15,40,0)"},{"offset":0.15,"color":"rgba(10,15,40,0)"},{"offset":0.16667,"color":"rgba(10,15,40,0.85)"},{"offset":0.18333,"color":"rgba(10,15,40,0)"},{"offset":0.20556,"color":"rgba(10,15,40,0)"},{"offset":0.22222,"color":"rgba(10,15,40,0.85)"},{"offset":0.23889,"color":"rgba(10,15,40,0)"},{"offset":0.26111,"color":"rgba(10,15,40,0)"},{"offset":0.27778,"color":"rgba(10,15,40,0.85)"},{"offset":0.29444,"color":"rgba(10,15,40,0)"},{"offset":0.31667,"color":"rgba(10,15,40,0)"},{"offset":0.33333,"color":"rgba(10,15,40,0.85)"},{"offset":0.35,"color":"rgba(10,15,40,0)"},{"offset":0.37222,"color":"rgba(10,15,40,0)"},{"offset":0.38889,"color":"rgba(10,15,40,0.85)"},{"offset":0.40556,"color":"rgba(10,15,40,0)"},{"offset":0.42778,"color":"rgba(10,15,40,0)"},{"offset":0.44444,"color":"rgba(10,15,40,0.85)"},{"offset":0.46111,"color":"rgba(10,15,40,0)"},{"offset":0.48333,"color":"rgba(10,15,40,0)"},{"offset":0.5,"color":"rgba(10,15,40,0.85)"},{"offset":0.51667,"color":"rgba(10,15,40,0)"},{"offset":0.53889,"color":"rgba(10,15,40,0)"},{"offset":0.55556,"color":"rgba(10,15,40,0.85)"},{"offset":0.57222,"color":"rgba(10,15,40,0)"},{"offset":0.59444,"color":"rgba(10,15,40,0)"},{"offset":0.61111,"color":"rgba(10,15,40,0.85)"},{"offset":0.62778,"color":"rgba(10,15,40,0)"},{"offset":0.65,"color":"rgba(10,15,40,0)"},{"offset":0.66667,"color":"rgba(10,15,40,0.85)"},{"offset":0.68333,"color":"rgba(10,15,40,0)"},{"offset":0.70556,"color":"rgba(10,15,40,0)"},{"offset":0.72222,"color":"rgba(10,15,40,0.85)"},{"offset":0.73889,"color":"rgba(10,15,40,0)"},{"offset":0.76111,"color":"rgba(10,15,40,0)"},{"offset":0.77778,"color":"rgba(10,15,40,0.85)"},{"offset":0.79444,"color":"rgba(10,15,40,0)"},{"offset":0.81667,"color":"rgba(10,15,40,0)"},{"offset":0.83333,"color":"rgba(10,15,40,0.85)"},{"offset":0.85,"color":"rgba(10,15,40,0)"},{"offset":0.87222,"color":"rgba(10,15,40,0)"},{"offset":0.88889,"color":"rgba(10,15,40,0.85)"},{"offset":0.90556,"color":"rgba(10,15,40,0)"},{"offset":0.92778,"color":"rgba(10,15,40,0)"},{"offset":0.94444,"color":"rgba(10,15,40,0.85)"},{"offset":0.96111,"color":"rgba(10,15,40,0)"},{"offset":0.98333,"color":"rgba(10,15,40,0)"},{"offset":1,"color":"rgba(10,15,40,0.85)"}]}},
       "encoding": {"x": {"field": "pos", "type": "quantitative", "axis": null}, "y": {"field": "q1", "type": "quantitative"}, "y2": {"field": "q3"}}},
      {"data": {"name": "boxes"}, "transform": [{"filter": "datum.panel == 'abutment'"}],
       "mark": {"type": "tick", "orient": "horizontal", "size": 37, "thickness": 1.6, "color": "#222222"},
       "encoding": {"x": {"field": "pos", "type": "quantitative", "axis": null}, "y": {"field": "median", "type": "quantitative"}}},
      {"data": {"name": "outliers"}, "transform": [{"filter": "datum.panel == 'abutment'"}],
       "mark": {"type": "point", "shape": "circle", "filled": true, "opacity": 1, "fill": "#d8cc10", "stroke": "#333333", "strokeWidth": 1, "size": 30},
       "encoding": {"x": {"field": "pos", "type": "quantitative", "axis": null}, "y": {"field": "value", "type": "quantitative"}}},
      {"data": {"name": "outliers"}, "transform": [{"filter": "datum.panel == 'abutment'"}],
       "mark": {"type": "text", "align": "left", "baseline": "middle", "dx": 5, "dy": -6, "font": "Liberation Sans", "fontSize": 9.5, "color": "#333333"},
       "encoding": {"x": {"field": "pos", "type": "quantitative", "axis": null}, "y": {"field": "value", "type": "quantitative"}, "text": {"field": "case"}}},
      {"data": {"name": "brackets"}, "transform": [{"filter": "datum.panel == 'abutment'"}],
       "mark": {"type": "rule", "strokeWidth": 1.3},
       "encoding": {"x": {"field": "from", "type": "quantitative", "axis": null}, "x2": {"field": "to"}, "y": {"field": "level", "type": "quantitative"},
        "stroke": {"field": "kind", "type": "nominal", "scale": {"domain": ["same", "between"], "range": ["#222222", "#a6a6a6"]}, "legend": null}}},
      {"data": {"name": "brackets"}, "transform": [{"filter": "datum.panel == 'abutment'"}, {"fold": ["from", "to"], "as": ["side", "xv"]}],
       "mark": {"type": "rule", "strokeWidth": 1.3},
       "encoding": {"x": {"field": "xv", "type": "quantitative", "axis": null}, "y": {"field": "level", "type": "quantitative"}, "y2": {"field": "end"},
        "stroke": {"field": "kind", "type": "nominal", "scale": {"domain": ["same", "between"], "range": ["#222222", "#a6a6a6"]}, "legend": null}}},
      {"data": {"name": "brackets"}, "transform": [{"filter": "datum.panel == 'abutment' && datum.kind == 'same'"}, {"fold": ["from", "to"], "as": ["side", "xv"]}, {"aggregate": [{"op": "mean", "field": "xv", "as": "mid"}], "groupby": ["id", "level", "sig"]}],
       "mark": {"type": "text", "font": "Liberation Sans", "fontSize": 11, "fontWeight": "bold", "color": "#222222", "baseline": "alphabetic", "dy": 2},
       "encoding": {"x": {"field": "mid", "type": "quantitative", "axis": null}, "y": {"field": "level", "type": "quantitative"}, "text": {"field": "sig"}}},
      {"data": {"name": "brackets"}, "transform": [{"filter": "datum.panel == 'abutment' && datum.kind == 'between'"}, {"fold": ["from", "to"], "as": ["side", "xv"]}, {"aggregate": [{"op": "mean", "field": "xv", "as": "mid"}], "groupby": ["id", "level", "sig"]}],
       "mark": {"type": "text", "font": "Liberation Sans", "fontSize": 11, "fontWeight": "bold", "color": "#a6a6a6", "baseline": "alphabetic", "dy": 1},
       "encoding": {"x": {"field": "mid", "type": "quantitative", "axis": null}, "y": {"field": "level", "type": "quantitative"}, "text": {"field": "sig"}}}
     ]
    }
   ]
  }
 ],
 "config": {"view": {"stroke": null}}
}
